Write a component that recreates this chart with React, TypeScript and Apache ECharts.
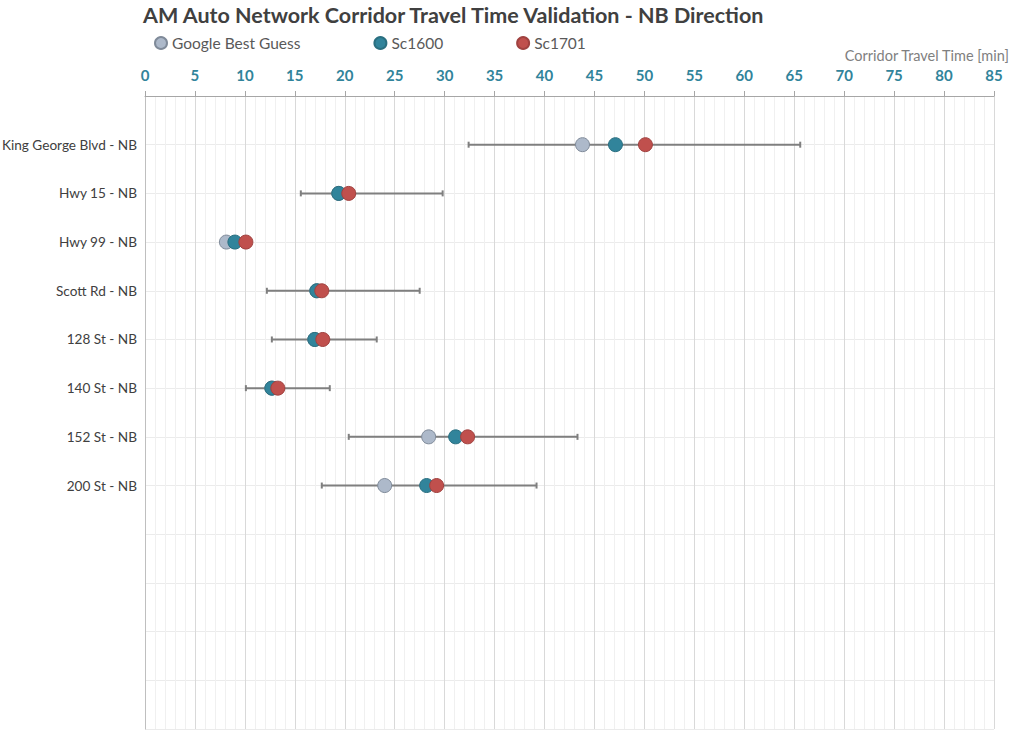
import React, { useEffect, useRef } from "react";
import * as echarts from "echarts";

const categories = [
  "King George Blvd - NB",
  "Hwy 15 - NB",
  "Hwy 99 - NB",
  "Scott Rd - NB",
  "128 St - NB",
  "140 St - NB",
  "152 St - NB",
  "200 St - NB",
];
const googleBest = [43.8, 19.4, 8.15, 17.2, 17.0, 12.7, 28.4, 24.0];
const sc1600 = [47.1, 19.4, 9.0, 17.2, 17.0, 12.7, 31.1, 28.2];
const sc1701 = [50.1, 20.4, 10.1, 17.7, 17.8, 13.3, 32.3, 29.2];
const errLow: (number | null)[] = [32.4, 15.6, null, 12.2, 12.7, 10.1, 20.4, 17.7];
const errHigh: (number | null)[] = [65.6, 29.8, null, 27.5, 23.2, 18.5, 43.3, 39.2];
const xTicks = { min: 0, max: 85, interval: 5 };
const rowCount = 13;

const FONT = "Lato, 'Open Sans', sans-serif";

export default function App() {
  const ref = useRef<HTMLDivElement>(null);
  useEffect(() => {
    if (!ref.current) return;
    const chart = echarts.init(ref.current, undefined, { renderer: "svg" });
    const toPts = (arr: number[]) => arr.map((v, i) => [v, i + 1]);
    const errData = categories
      .map((_, i) => (errLow[i] != null && errHigh[i] != null ? [errLow[i], errHigh[i], i + 1] : null))
      .filter((d) => d != null);
    chart.setOption({
      animation: false,
      textStyle: { fontFamily: FONT },
      title: {
        text: "AM Auto Network Corridor Travel Time Validation - NB Direction",
        left: 138,
        top: -1,
        textStyle: { fontFamily: FONT, fontSize: 21.5, fontWeight: "bold", color: "#404040" },
      },
      legend: {
        left: 149,
        top: 30,
        itemGap: 73,
        itemWidth: 12,
        itemHeight: 12,
        textStyle: { fontFamily: FONT, fontSize: 15.5, color: "#595959", padding: [0, 0, 0, 0] },
        data: ["Google Best Guess", "Sc1600", "Sc1701"],
      },
      graphic: [
        {
          type: "text",
          right: 1,
          top: 48,
          style: {
            text: "Corridor Travel Time [min]",
            fontFamily: FONT,
            fontSize: 14.5,
            fill: "#808080",
          },
        },
      ],
      grid: { left: 145, right: 17, top: 96, bottom: 1, containLabel: false, outerBoundsMode: "none" },
      xAxis: {
        type: "value",
        position: "top",
        min: xTicks.min,
        max: xTicks.max,
        interval: xTicks.interval,
        axisLine: { show: true, lineStyle: { color: "#a6a6a6", width: 1 } },
        axisTick: { show: true, length: 5, lineStyle: { color: "#a6a6a6" } },
        axisLabel: { color: "#31849B", fontWeight: "bold", fontSize: 15, fontFamily: FONT, margin: 14 },
        splitLine: { show: true, lineStyle: { color: "#d9d9d9", width: 1 } },
        minorTick: { show: false, splitNumber: 5 },
        minorSplitLine: { show: true, lineStyle: { color: "#f0f0f0", width: 1 } },
      },
      yAxis: {
        type: "value",
        inverse: true,
        min: 0,
        max: rowCount,
        interval: 1,
        axisLine: { show: true, lineStyle: { color: "#bfbfbf" } },
        axisTick: { show: false },
        axisLabel: {
          color: "#404040",
          fontSize: 13.6,
          fontFamily: FONT,
          margin: 8,
          formatter: (v: number) => categories[v - 1] ?? "",
        },
        splitLine: { show: true, lineStyle: { color: "#ebebeb", width: 1 } },
      },
      series: [
        {
          type: "custom",
          name: "err",
          z: 1,
          silent: true,
          data: errData,
          renderItem: (_params: any, api: any) => {
            const y = api.value(2);
            const p1 = api.coord([api.value(0), y]);
            const p2 = api.coord([api.value(1), y]);
            const st = { stroke: "#7f7f7f", lineWidth: 2 };
            return {
              type: "group",
              children: [
                { type: "line", shape: { x1: p1[0], y1: p1[1], x2: p2[0], y2: p2[1] }, style: st },
                { type: "line", shape: { x1: p1[0], y1: p1[1] - 3, x2: p1[0], y2: p1[1] + 3 }, style: st },
                { type: "line", shape: { x1: p2[0], y1: p2[1] - 3, x2: p2[0], y2: p2[1] + 3 }, style: st },
              ],
            };
          },
        },
        {
          type: "scatter",
          name: "Google Best Guess",
          z: 2,
          symbol: "circle",
          symbolSize: 14,
          itemStyle: { color: "#adb9ca", borderColor: "#7f8a99", borderWidth: 1, opacity: 1 },
          data: toPts(googleBest),
        },
        {
          type: "scatter",
          name: "Sc1600",
          z: 3,
          symbol: "circle",
          symbolSize: 14,
          itemStyle: { color: "#31849B", borderColor: "#2a6f80", borderWidth: 1, opacity: 1 },
          data: toPts(sc1600),
        },
        {
          type: "scatter",
          name: "Sc1701",
          z: 4,
          symbol: "circle",
          symbolSize: 14,
          itemStyle: { color: "#c0504d", borderColor: "#a04240", borderWidth: 1, opacity: 1 },
          data: toPts(sc1701),
        },
      ],
    });
    return () => chart.dispose();
  }, []);
  return (
    <div
      ref={ref}
      style={{ position: "fixed", left: 0, top: 0, width: 1011, height: 730, background: "#fff" }}
    />
  );
}
